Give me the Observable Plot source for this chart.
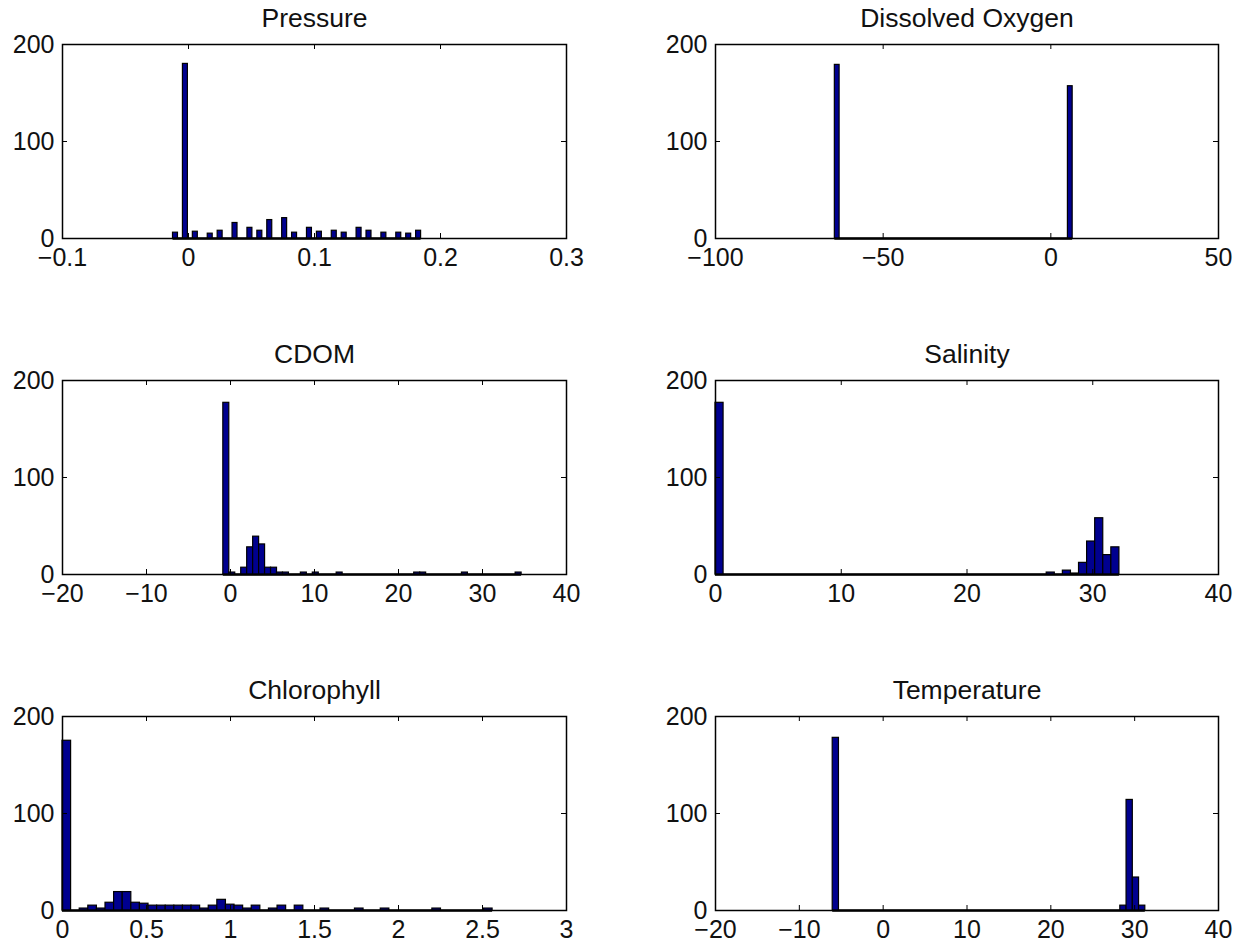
<!DOCTYPE html>
<html><head><meta charset="utf-8">
<script src="https://cdn.jsdelivr.net/npm/d3@7"></script>
<script src="https://cdn.jsdelivr.net/npm/@observablehq/plot@0.6"></script>
<style>
body{margin:0;background:#fff;}
#chart{position:relative;width:1246px;height:949px;background:#fff;}
#chart > div{position:absolute;}
</style></head><body><div id="chart"></div>
<script>
// ---- data ----
const panelTitles = ["Pressure", "Dissolved Oxygen", "CDOM", "Salinity", "Chlorophyll", "Temperature"];
const yTicks = [0, 100, 200];

const pressureDomain = [-0.1, 0.3];
const pressureTicks = [-0.1, 0, 0.1, 0.2, 0.3];
const pressureRange = [-0.0123, 0.1846];
const pressureCounts = [6,0,180,0,7,0,0,5,0,8, 0,0,16,0,0,11,0,8,0,19, 0,0,21,0,6,0,0,11,0,7, 0,0,8,0,6,0,0,11,0,8, 0,0,6,0,0,6,0,5,0,8];

const oxygenDomain = [-100, 50];
const oxygenTicks = [-100, -50, 0, 50];
const oxygenRange = [-64.41, 6.51];
const oxygenCounts = [179,0,0,0,0,0,0,0,0,0, 0,0,0,0,0,0,0,0,0,0, 0,0,0,0,0,0,0,0,0,0, 0,0,0,0,0,0,0,0,0,0, 0,0,0,0,0,0,0,0,0,157];

const cdomDomain = [-20, 40];
const cdomTicks = [-20, -10, 0, 10, 20, 30, 40];
const cdomRange = [-0.855, 34.655];
const cdomCounts = [177,2,0,7,28,39,31,7,7,2, 2,0,0,2,0,2,0,0,0,2, 0,0,0,0,0,0,0,0,0,0, 0,0,2,2,0,0,0,0,0,0, 2,0,0,0,0,0,0,0,0,2];

const salinityDomain = [0, 40];
const salinityTicks = [0, 10, 20, 30, 40];
const salinityRange = [0, 32.12];
const salinityCounts = [177,0,0,0,0,0,0,0,0,0, 0,0,0,0,0,0,0,0,0,0, 0,0,0,0,0,0,0,0,0,0, 0,0,0,0,0,0,0,0,0,0, 0,2,0,4,1,12,34,58,20,28];

const chlorophyllDomain = [0, 3];
const chlorophyllTicks = [0, 0.5, 1, 1.5, 2, 2.5, 3];
const chlorophyllRange = [0, 2.56];
const chlorophyllCounts = [175,0,2,5,2,8,19,19,8,7, 5,5,5,5,5,5,2,5,11,6, 5,2,5,0,2,5,0,5,0,0, 2,0,0,0,2,0,0,2,0,0, 0,0,0,2,0,0,0,0,0,2];

const temperatureDomain = [-20, 40];
const temperatureTicks = [-20, -10, 0, 10, 20, 30, 40];
const temperatureRange = [-6.02, 31.27];
const temperatureCounts = [178,0,0,0,0,0,0,0,0,0, 0,0,0,0,0,0,0,0,0,0, 0,0,0,0,0,0,0,0,0,0, 0,0,0,0,0,0,0,0,0,0, 0,0,0,0,0,0,5,114,34,5];

// ---- layout ----
const domains = [pressureDomain, oxygenDomain, cdomDomain, salinityDomain, chlorophyllDomain, temperatureDomain];
const tickSets = [pressureTicks, oxygenTicks, cdomTicks, salinityTicks, chlorophyllTicks, temperatureTicks];
const ranges = [pressureRange, oxygenRange, cdomRange, salinityRange, chlorophyllRange, temperatureRange];
const countSets = [pressureCounts, oxygenCounts, cdomCounts, salinityCounts, chlorophyllCounts, temperatureCounts];

const W = 623, H = 277, MT = 44, MB = 39;
const colLeft = [0, 623];
const colMargins = [[62, 57], [92, 28]];
const rowTop = [0, 336, 672];
const fmt = d => String(d).replace("-", "\u2212");
const font = "'Liberation Sans', Arial, Helvetica, sans-serif";

const chart = document.getElementById("chart");
panelTitles.forEach((title, i) => {
  const col = i % 2, row = Math.floor(i / 2);
  const [lo, hi] = ranges[i];
  const counts = countSets[i];
  const bw = (hi - lo) / counts.length;
  const bins = counts.map((c, k) => ({x1: lo + k * bw, x2: lo + (k + 1) * bw, count: c})).filter(d => d.count > 0);
  const [ml, mr] = colMargins[col];
  const fw = W - ml - mr, fh = H - MT - MB;
  const p = Plot.plot({
    width: W, height: H,
    marginLeft: ml, marginRight: mr, marginTop: MT, marginBottom: MB,
    style: {fontFamily: font, fontSize: "25px", color: "#111", background: "transparent", overflow: "visible"},
    x: {domain: domains[i]},
    y: {domain: [0, 200]},
    marks: [
      Plot.ruleY([0], {x1: lo, x2: hi, stroke: "#000", strokeWidth: 2.5}),
      Plot.rectY(bins, {x1: "x1", x2: "x2", y: "count", fill: "#00008F", stroke: "#000", strokeWidth: 1.2}),
      Plot.frame({stroke: "#000", strokeWidth: 1.5}),
      Plot.tickX(tickSets[i], {x: d => d, insetTop: fh - 5, stroke: "#000"}),
      Plot.tickX(tickSets[i], {x: d => d, insetBottom: fh - 5, stroke: "#000"}),
      Plot.tickY(yTicks, {y: d => d, insetRight: fw - 5, stroke: "#000"}),
      Plot.tickY(yTicks, {y: d => d, insetLeft: fw - 5, stroke: "#000"}),
      Plot.axisX({ticks: tickSets[i], tickSize: 0, tickPadding: 10, tickFormat: fmt, label: null}),
      Plot.axisY({ticks: yTicks, tickSize: 0, tickPadding: 8, tickFormat: fmt, label: null}),
      Plot.text([title], {text: d => d, frameAnchor: "top", lineAnchor: "middle", dy: -26, fontSize: 26.5, fill: "#111"})
    ]
  });
  const holder = document.createElement("div");
  holder.style.left = colLeft[col] + "px";
  holder.style.top = rowTop[row] + "px";
  holder.appendChild(p);
  chart.appendChild(holder);
});
</script>
</body></html>
